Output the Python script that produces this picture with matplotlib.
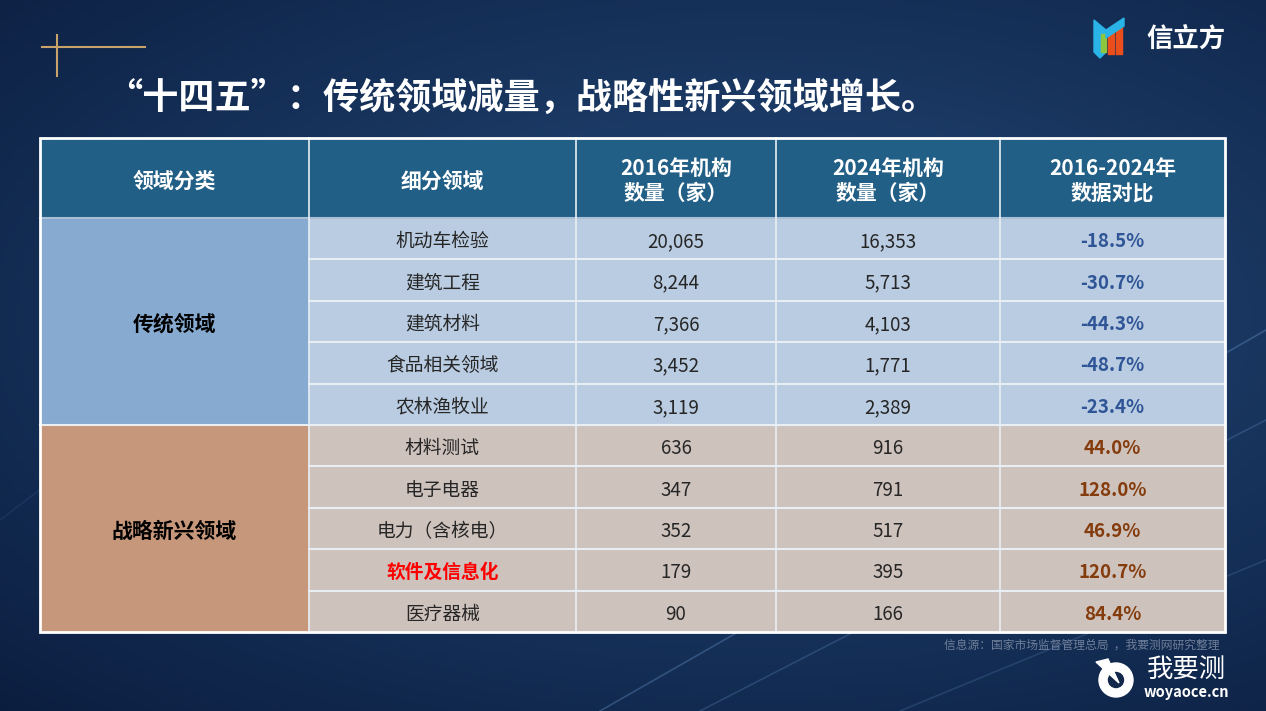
import numpy as np
import matplotlib.pyplot as plt
from matplotlib.patches import Rectangle, Polygon

plt.rcParams['font.family'] = ['Noto Sans CJK SC', 'DejaVu Sans']

# 数据
header = ['领域分类', '细分领域', '2016年机构\n数量（家）', '2024年机构\n数量（家）', '2016-2024年\n数据对比']
groups = ['传统领域', '战略新兴领域']
group_sizes = [5, 5]
sub_fields = ['机动车检验', '建筑工程', '建筑材料', '食品相关领域', '农林渔牧业',
              '材料测试', '电子电器', '电力（含核电）', '软件及信息化', '医疗器械']
count_2016 = [20065, 8244, 7366, 3452, 3119, 636, 347, 352, 179, 90]
count_2024 = [16353, 5713, 4103, 1771, 2389, 916, 791, 517, 395, 166]
change = ['-18.5%', '-30.7%', '-44.3%', '-48.7%', '-23.4%',
          '44.0%', '128.0%', '46.9%', '120.7%', '84.4%']
highlight = '软件及信息化'

fig = plt.figure(figsize=(12.66, 7.11), dpi=100)
ax = fig.add_axes([0, 0, 1, 1])
ax.set_xlim(0, 1266)
ax.set_ylim(711, 0)
ax.axis('off')

# 背景渐变
yy, xx = np.mgrid[0:1:200j, 0:1:300j]
r = np.sqrt(((xx - 0.6) / 0.9) ** 2 + ((yy - 0.45) / 0.8) ** 2)
t = np.clip(1 - r, 0, 1)
c1 = np.array([0.04, 0.11, 0.24])
c2 = np.array([0.14, 0.29, 0.48])
bg = c1 + (c2 - c1) * t[..., None]
ax.imshow(bg, extent=[0, 1266, 711, 0], aspect='auto', zorder=0)
# 几条光线
for x0, y0, x1, y1, a in [(600, 711, 1266, 330, 0.25), (700, 711, 1266, 420, 0.18),
                           (0, 520, 500, 140, 0.08), (900, 711, 1266, 560, 0.15)]:
    ax.plot([x0, x1], [y0, y1], color='#8fc4ff', lw=1.2, alpha=a, zorder=1)

# 左上角金色十字
ax.plot([57, 57], [35, 76], color='#c9a46a', lw=1.5, zorder=2)
ax.plot([42, 145], [47, 47], color='#c9a46a', lw=1.5, zorder=2)

# 标题
ax.text(106, 98, '“十四五”：传统领域减量，战略性新兴领域增长。', color='white',
        fontsize=26, fontweight='bold', va='center', ha='left', zorder=3)

# 右上角 logo
ax.add_patch(Polygon([[1094, 20], [1106, 30], [1106, 52], [1100, 58], [1094, 52]],
                     color='#2ab3e6', zorder=3))
ax.add_patch(Rectangle((1101, 34), 5, 18, color='#8cc63f', zorder=4))
ax.add_patch(Rectangle((1108, 30), 6, 24, color='#e94e1b', zorder=4))
ax.add_patch(Rectangle((1116, 26), 6, 28, color='#e94e1b', zorder=4))
ax.add_patch(Polygon([[1106, 30], [1124, 18], [1124, 26], [1106, 38]], color='#2ab3e6', zorder=4))
ax.text(1186, 39, '信立方', color='white', fontsize=19, fontweight='bold',
        va='center', ha='center', zorder=4)

# 表格
col_x = [40, 309, 576, 776, 1000, 1225]
top, head_h, row_h = 138, 80, 41.4
n = len(sub_fields)
body_top = top + head_h
bottom = body_top + row_h * n
dy = 3  # 文字略微下移

# 表头
ax.add_patch(Rectangle((col_x[0], top), col_x[-1] - col_x[0], head_h,
                       color='#225f86', zorder=3))
for i, h in enumerate(header):
    ax.text((col_x[i] + col_x[i + 1]) / 2, top + head_h / 2 + dy, h, color='white',
            fontsize=15, fontweight='bold', ha='center', va='center',
            linespacing=1.2, zorder=5)

# 分组单元格
group_col = ['#87aad0', '#c6977a']
cell_col = ['#b9cce1', '#cec2bd']
pct_col = ['#2f5597', '#843c0c']
start = 0
for g, size in enumerate(group_sizes):
    y0 = body_top + start * row_h
    ax.add_patch(Rectangle((col_x[0], y0), col_x[1] - col_x[0], size * row_h,
                           color=group_col[g], zorder=3))
    ax.add_patch(Rectangle((col_x[1], y0), col_x[-1] - col_x[1], size * row_h,
                           color=cell_col[g], zorder=3))
    ax.text((col_x[0] + col_x[1]) / 2, y0 + size * row_h / 2 + dy, groups[g],
            color='black', fontsize=15, fontweight='bold', ha='center',
            va='center', zorder=5)
    for k in range(start, start + size):
        yc = body_top + (k + 0.5) * row_h + dy
        name = sub_fields[k]
        if name == highlight:
            ax.text((col_x[1] + col_x[2]) / 2, yc, name, color='#ff0000',
                    fontsize=13.5, fontweight='bold', ha='center', va='center', zorder=5)
        else:
            ax.text((col_x[1] + col_x[2]) / 2, yc, name, color='#262626',
                    fontsize=13.5, ha='center', va='center', zorder=5)
        ax.text((col_x[2] + col_x[3]) / 2, yc, f'{count_2016[k]:,}', color='#262626',
                fontsize=13.5, ha='center', va='center', zorder=5)
        ax.text((col_x[3] + col_x[4]) / 2, yc, f'{count_2024[k]:,}', color='#262626',
                fontsize=13.5, ha='center', va='center', zorder=5)
        ax.text((col_x[4] + col_x[5]) / 2, yc, change[k], color=pct_col[g],
                fontsize=13.5, fontweight='bold', ha='center', va='center', zorder=5)
    start += size

# 网格线
line_c = '#e8eef4'
for k in range(1, n):
    ax.plot([col_x[1], col_x[-1]], [body_top + k * row_h] * 2, color=line_c, lw=1.5, zorder=4)
ax.plot([col_x[0], col_x[-1]], [body_top + group_sizes[0] * row_h] * 2, color=line_c, lw=1.5, zorder=4)
ax.plot([col_x[0], col_x[-1]], [body_top] * 2, color='#a9bfd6', lw=1.5, zorder=4)
for x in col_x[1:-1]:
    ax.plot([x, x], [top, bottom], color=line_c, lw=1.2, zorder=4)
ax.add_patch(Rectangle((col_x[0], top), col_x[-1] - col_x[0], bottom - top,
                       fill=False, ec='white', lw=2, zorder=6))

# 数据来源
ax.text(1220, 645, '信息源：国家市场监督管理总局  ，我要测网研究整理', color='#6f7f99',
        fontsize=8.5, ha='right', va='center', zorder=5)

# 右下角 logo
ax.add_patch(plt.Circle((1116, 680), 17, color='white', zorder=5))
ax.add_patch(plt.Circle((1116, 680), 7.5, color='#12284a', zorder=6))
ax.add_patch(Polygon([[1096, 662], [1119, 683], [1108, 659]], color='white', zorder=7))
ax.text(1186, 670, '我要测', color='white', fontsize=19, ha='center', va='center', zorder=5)
ax.text(1186, 692, 'woyaoce.cn', color='white', fontsize=10.5, fontweight='bold',
        ha='center', va='center', zorder=5)

fig.savefig('out.png', dpi=100)
